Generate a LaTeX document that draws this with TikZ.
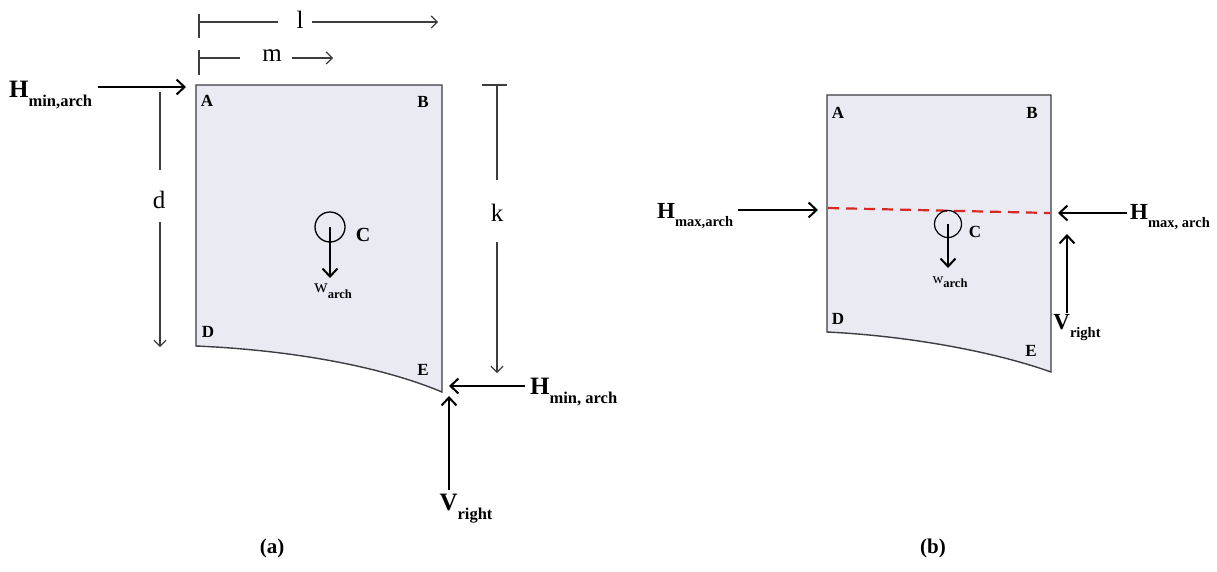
\documentclass[tikz,border=0pt]{standalone}
\usepackage{fontspec}
\setmainfont{Liberation Serif}
\usetikzlibrary{arrows.meta}
\definecolor{panelfill}{RGB}{234,234,243}
\definecolor{edgecol}{RGB}{60,60,65}
\definecolor{dashred}{RGB}{215,40,35}
\tikzset{
  panel/.style={draw=edgecol,line width=1.4pt,fill=panelfill},
  force/.style={line width=2.2pt,-{Straight Barb[length=8pt,width=15pt,line width=2pt]}},
  dimline/.style={draw=edgecol,line width=1.2pt},
  dimarrow/.style={dimline,-{Straight Barb[length=6pt,width=12pt,line width=1.2pt]}},
  bigf/.style={font=\fontsize{25}{25}\selectfont\bfseries,inner sep=1pt},
  bigfb/.style={font=\fontsize{23}{23}\selectfont\bfseries,inner sep=1pt},
  corner/.style={font=\fontsize{17}{17}\selectfont\bfseries,inner sep=0pt},
  dimlbl/.style={font=\fontsize{25}{25}\selectfont,inner sep=0pt},
  clbl/.style={font=\fontsize{20}{20}\selectfont\bfseries,inner sep=0pt},
  wlbl/.style={font=\fontsize{19}{19}\selectfont,inner sep=0pt},
  caption/.style={font=\fontsize{21}{21}\selectfont\bfseries,inner sep=0pt},
}
\newcommand{\sbs}[1]{\raisebox{-0.35em}{\fontsize{16.5}{16.5}\selectfont\bfseries #1}}
\newcommand{\sbsb}[1]{\raisebox{-0.35em}{\fontsize{14.5}{14.5}\selectfont\bfseries #1}}
\newcommand{\wsub}[1]{\raisebox{-0.3em}{\fontsize{12.5}{12.5}\selectfont\bfseries #1}}
\begin{document}
\begin{tikzpicture}[x=1pt,y=-1pt]
\useasboundingbox (0,0) rectangle (1217,571);
% ---------- panel (a) ----------
\coordinate (A1) at (196,85);
\coordinate (B1) at (442,85);
\coordinate (E1) at (442,392);
\coordinate (D1) at (196,346);
\draw[panel] (A1) -- (B1) -- (E1) .. controls (380,366) and (290,350) .. (D1) -- cycle;
\node[corner] (la) at (207,101) {A};
\node[corner] (lb) at (423,102) {B};
\node[corner] (ld) at (208,332) {D};
\node[corner] (le) at (423,370) {E};
% centroid
\node[draw=black,line width=1.3pt,circle,minimum size=30pt,inner sep=0pt] (c1) at (330,227) {};
\coordinate (w1end) at (330,278);
\draw[force] (c1.center) -- (w1end);
\node[clbl] (lc1) at (363,235) {C};
\node[wlbl] (w1) at (333,291) {w\wsub{arch}};
% dimension l
\draw[dimline] (199,14) -- (199,38);
\node[dimlbl] (ll) at (300,20) {l};
\coordinate (l0) at (199,22);
\coordinate (l1) at (438,22);
\draw[dimline] (l0) -- (278,22);
\draw[dimarrow] (312,22) -- (l1);
% dimension m
\draw[dimline] (199,50) -- (199,75);
\node[dimlbl] (lm) at (272,56) {m};
\coordinate (m0) at (199,58);
\coordinate (m1) at (333,58);
\draw[dimline] (m0) -- (240,58);
\draw[dimarrow] (292,58) -- (m1);
% dimension d
\node[dimlbl] (ldd) at (159,200) {d};
\coordinate (d0) at (160,92);
\coordinate (d1) at (160,347);
\draw[dimline] (d0) -- (160,170);
\draw[dimarrow] (160,222) -- (d1);
% dimension k
\draw[dimline] (482,85) -- (507,85);
\node[dimlbl] (lk) at (497,213) {k};
\coordinate (k0) at (497,85);
\coordinate (k1) at (497,373);
\draw[dimline] (k0) -- (497,180);
\draw[dimarrow] (497,242) -- (k1);
% forces (a)
\node[bigf,anchor=west] (hmin1) at (8,95) {H\sbs{min,arch}};
\coordinate (hmin1s) at (98,87);
\coordinate (hmin1e) at (186,87);
\draw[force] (hmin1s) -- (hmin1e);
\node[bigf,anchor=west] (hmin2) at (529,392) {H\sbs{min, arch}};
\coordinate (hmin2s) at (525,386);
\coordinate (hmin2e) at (449,386);
\draw[force] (hmin2s) -- (hmin2e);
\node[bigf] (vr1) at (466,509) {V\sbs{right}};
\coordinate (vr1s) at (449,490);
\coordinate (vr1e) at (449,396);
\draw[force] (vr1s) -- (vr1e);
\node[caption] (capa) at (272,548) {(a)};
% ---------- panel (b) ----------
\coordinate (A2) at (827,95);
\coordinate (B2) at (1051,95);
\coordinate (E2) at (1051,372);
\coordinate (D2) at (827,332);
\draw[panel] (A2) -- (B2) -- (E2) .. controls (995,352) and (910,336) .. (D2) -- cycle;
\node[corner] (la2) at (838,113) {A};
\node[corner] (lb2) at (1032,113) {B};
\node[corner] (ld2) at (838,319) {D};
\node[corner] (le2) at (1031,351) {E};
\coordinate (r0) at (828,208);
\coordinate (r1) at (1050,213);
\draw[dashred,line width=2.2pt,dash pattern=on 11pt off 7pt] (r0) -- (r1);
\node[draw=black,line width=1.2pt,circle,minimum size=27pt,inner sep=0pt] (c2) at (948,224) {};
\coordinate (w2end) at (948,268);
\draw[force,line width=1.8pt] (c2.center) -- (w2end);
\node[clbl,font=\fontsize{17}{17}\selectfont\bfseries] (lc2) at (975,232) {C};
\node[wlbl,font=\fontsize{15}{15}\selectfont] (w2) at (950,282) {w\wsub{arch}};
\node[bigfb,anchor=west] (hmax1) at (656,216) {H\sbsb{max,arch}};
\coordinate (hmax1s) at (738,210);
\coordinate (hmax1e) at (818,210);
\draw[force] (hmax1s) -- (hmax1e);
\node[bigfb,anchor=west] (hmax2) at (1129,217) {H\sbsb{max, arch}};
\coordinate (hmax2s) at (1127,213);
\coordinate (hmax2e) at (1058,213);
\draw[force] (hmax2s) -- (hmax2e);
\node[bigfb] (vr2) at (1077,328) {V\sbsb{right}};
\coordinate (vr2s) at (1067,313);
\coordinate (vr2e) at (1067,234);
\draw[force] (vr2s) -- (vr2e);
\node[caption] (capb) at (933,548) {(b)};
\end{tikzpicture}
\end{document}
